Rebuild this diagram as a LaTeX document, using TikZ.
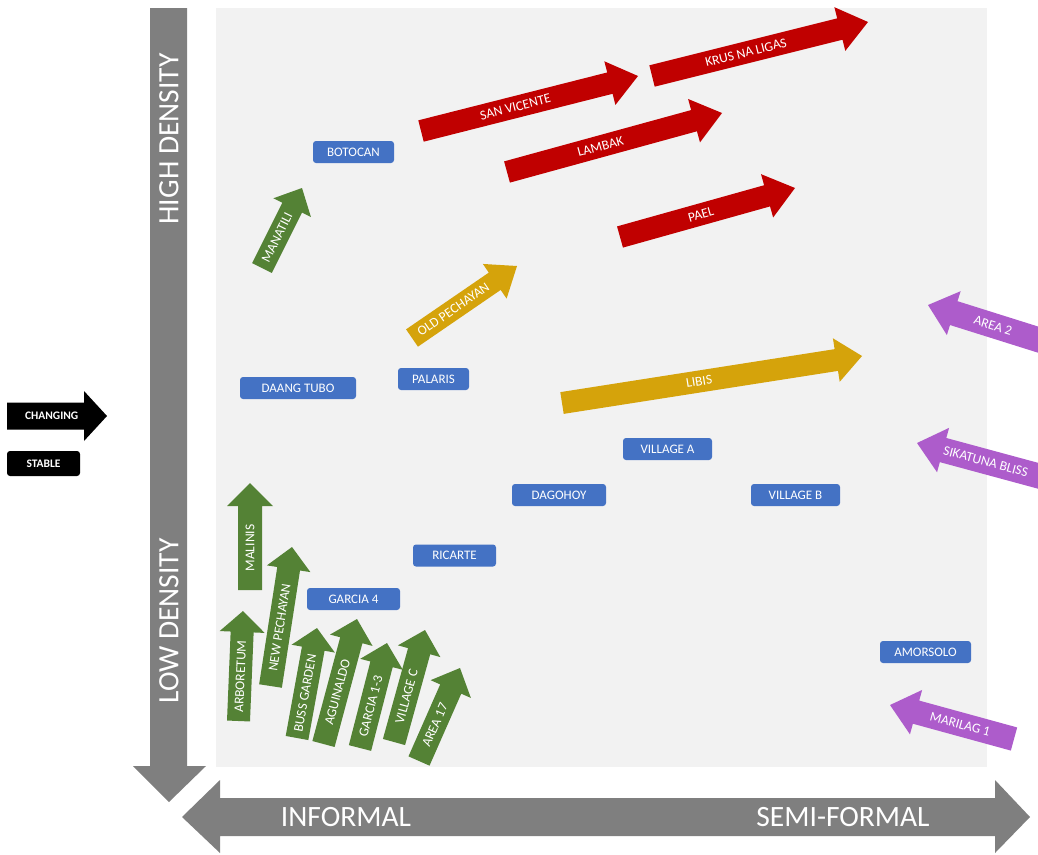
\documentclass[tikz,border=0pt]{standalone}
\usepackage{fontspec}
\setmainfont{Carlito}
\usetikzlibrary{calc}
\definecolor{bggrey}{HTML}{F2F2F2}
\definecolor{axgrey}{HTML}{7F7F7F}
\definecolor{boxblue}{HTML}{4472C4}
\definecolor{cred}{HTML}{C00000}
\definecolor{cgreen}{HTML}{548235}
\definecolor{cgold}{HTML}{D5A30B}
\definecolor{cpurple}{HTML}{AD5CCB}
% #1 name, #2 colour, #3 tail centre, #4 tip, #5 half shaft width, #6 half head width, #7 head length, #8 label, #9 label pos
\newcommand\fatarrow[9]{%
  \coordinate (#1-a) at (#3);
  \coordinate (#1-b) at (#4);
  \coordinate (#1-n) at ($(#1-b)!#7pt!(#1-a)$);
  \fill[#2] ($(#1-a)!#5pt!90:(#1-b)$) -- ($(#1-n)!#5pt!90:(#1-b)$) -- ($(#1-n)!#6pt!90:(#1-b)$) -- (#1-b)
     -- ($(#1-n)!#6pt!-90:(#1-b)$) -- ($(#1-n)!#5pt!-90:(#1-b)$) -- ($(#1-a)!#5pt!-90:(#1-b)$) -- cycle;
  \path (#1-a) -- (#1-n) node[arrowtext, pos=#9, sloped] (#1) {#8};
}
\tikzset{
  arrowtext/.style={text=white, inner sep=0pt, font=\fontsize{13.5}{14}\selectfont},
  axtext/.style={text=white, inner sep=0pt, font=\fontsize{29.5}{30}\selectfont},
  boxstyle/.style={fill=boxblue, rounded corners=3pt, text=white, minimum height=22pt, inner sep=0pt, font=\fontsize{13}{14}\selectfont},
}
\begin{document}
\begin{tikzpicture}[x=1pt, y=-1pt]
\useasboundingbox (0,0) rectangle (1038,854);
\clip (0,0) rectangle (1038,854);
% background panel
\fill[bggrey] (216,8) rectangle (987,767);
% vertical axis
\fill[axgrey] (150,8) -- (187,8) -- (187,766) -- (206,766) -- (169,802) -- (133,766) -- (150,766) -- cycle;
\node[axtext, rotate=90] (hd) at (169,139) {HIGH DENSITY};
\node[axtext, rotate=90] (ld) at (169,621) {LOW DENSITY};
% horizontal axis
\fill[axgrey] (182,817) -- (220,780) -- (220,798) -- (995,798) -- (995,780) -- (1030,817) -- (995,853) -- (995,836) -- (220,836) -- (220,853) -- cycle;
\node[axtext] (inf) at (346,817) {INFORMAL};
\node[axtext] (sf) at (843,817) {SEMI-FORMAL};
% legend
\begin{scope}[arrowtext/.style={text=white, inner sep=0pt, font=\bfseries\fontsize{11.5}{12}\selectfont}]
\fatarrow{chg}{black}{7,416}{107,416}{13.5}{25}{23}{CHANGING}{0.58}
\node[fill=black, rounded corners=3pt, minimum width=73pt, minimum height=25pt, inner sep=0pt, text=white, font=\bfseries\fontsize{11.5}{12}\selectfont] (stable) at (43.5,463.5) {STABLE};
\end{scope}
% blue boxes
\node[boxstyle, minimum width=81pt] (botocan) at (353.5,152) {BOTOCAN};
\node[boxstyle, minimum width=116pt] (daang) at (298,388) {DAANG TUBO};
\node[boxstyle, minimum width=71pt] (palaris) at (433.5,379) {PALARIS};
\node[boxstyle, minimum width=89pt] (villa) at (667.5,449) {VILLAGE A};
\node[boxstyle, minimum width=94pt] (dagohoy) at (559,495) {DAGOHOY};
\node[boxstyle, minimum width=89pt] (villb) at (795.5,495) {VILLAGE B};
\node[boxstyle, minimum width=83pt] (ricarte) at (454.5,555.5) {RICARTE};
\node[boxstyle, minimum width=93pt] (garcia4) at (353.5,599) {GARCIA 4};
\node[boxstyle, minimum width=91pt] (amorsolo) at (925.5,652) {AMORSOLO};
% red arrows
\fatarrow{sanvicente}{cred}{421,131}{638,76}{11}{22.5}{29}{SAN VICENTE}{0.5}
\fatarrow{krus}{cred}{652,76}{868,22}{11}{22.5}{29}{KRUS NA LIGAS}{0.5}
\fatarrow{lambak}{cred}{507,172}{722,113}{11}{22.5}{29}{LAMBAK}{0.5}
\fatarrow{pael}{cred}{620,237}{795,188}{11}{22.5}{29}{PAEL}{0.55}
% gold arrows
\fatarrow{oldpech}{cgold}{412,338}{517,266}{10.5}{21}{27}{OLD PECHAYAN}{0.5}
\fatarrow{libis}{cgold}{562,403}{862,356}{11}{22}{26}{LIBIS}{0.5}
% green arrows
\fatarrow{manatili}{cgreen}{262,268}{302,188}{11}{21}{22}{MANATILI}{0.5}
\fatarrow{malinis}{cgreen}{250,590}{250,483}{12}{23}{23}{MALINIS}{0.5}
\fatarrow{arboretum}{cgreen}{238.5,721}{243,611}{11.5}{22.5}{21}{ARBORETUM}{0.5}
\fatarrow{newpech}{cgreen}{270.5,686}{292,547}{11.5}{22}{22}{NEW PECHAYAN}{0.5}
\fatarrow{buss}{cgreen}{297,738}{317,628}{11.5}{22}{21}{BUSS GARDEN}{0.5}
\fatarrow{aguinaldo}{cgreen}{323.5,744}{357,619}{11.5}{22}{22}{AGUINALDO}{0.5}
\fatarrow{garcia13}{cgreen}{360,748}{387,643}{11.5}{22}{22}{GARCIA 1-3}{0.5}
\fatarrow{villc}{cgreen}{394,742}{425,630}{11.5}{22}{22}{VILLAGE C}{0.5}
\fatarrow{area17}{cgreen}{419,761}{460,668}{11.5}{22}{23}{AREA 17}{0.5}
% purple arrows
\fatarrow{area2}{cpurple}{1052,344}{928,305}{12.5}{23}{27}{AREA 2}{0.6}
\fatarrow{sikatuna}{cpurple}{1050,479}{917,443}{12.5}{23}{27}{SIKATUNA BLISS}{0.6}
\fatarrow{marilag}{cpurple}{1014,739}{890,705}{12}{23}{27}{MARILAG 1}{0.55}
\end{tikzpicture}
\end{document}
